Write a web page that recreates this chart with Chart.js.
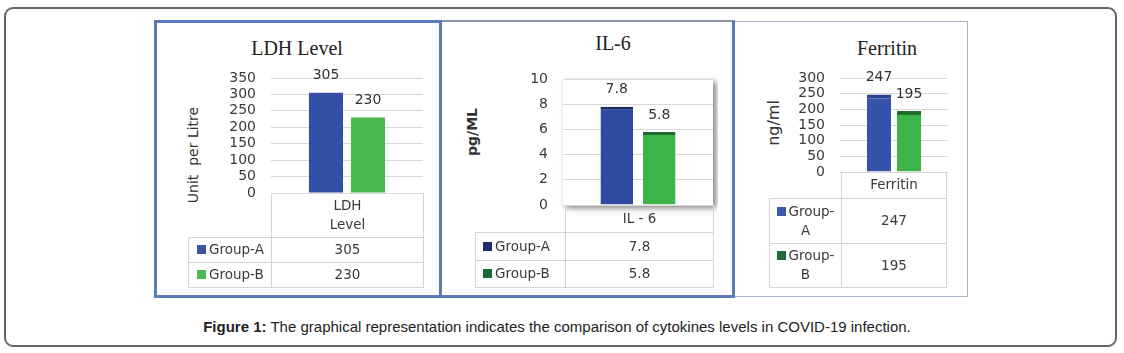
<!DOCTYPE html>
<html>
<head>
<meta charset="utf-8">
<script src="https://cdn.jsdelivr.net/npm/chart.js@4.4.1/dist/chart.umd.min.js"></script>
<style>
    html, body { margin: 0; padding: 0; background: #fff; }
    #page { position: relative; width: 1124px; height: 353px; overflow: hidden; font-family: "DejaVu Sans", sans-serif; color: #3a3a3a; }
    #frame { position: absolute; left: 4px; top: 7px; width: 1109px; height: 336px; border: 2px solid #666; border-radius: 9px; }
    .panel { position: absolute; box-sizing: border-box; background: #fff; }
    #panel1 { left: 154px; top: 20px; width: 288px; height: 278px; border: 3px solid #5a7cb6; }
    #panel2 { left: 442px; top: 20px; width: 293px; height: 278px; border-top: 2px solid #8a96a8; border-right: 3px solid #5a7cb6; border-bottom: 3px solid #5a7cb6; }
    #panel3 { left: 735px; top: 21px; width: 233px; height: 276px; border: 1px solid #a4b4cc; border-left: none; }
    .title { position: absolute; transform: translate(-50%, -50%); font-family: "Liberation Serif", serif; font-size: 20px; color: #222; white-space: nowrap; }
    .ytitle { position: absolute; transform: translate(-50%, -50%) rotate(-90deg); white-space: pre; font-size: 14px; color: #333; }
    canvas.chart { position: absolute; }
    table.data { position: absolute; border-collapse: collapse; table-layout: fixed; font-size: 13.5px; color: #3a3a3a; }
    table.data td { border: 1px solid #d4d4d4; padding: 0; text-align: center; vertical-align: middle; line-height: 19px; }
    table.data td.blank { border-top: none; border-left: none; }
    table.data td.head { border-top: none; }
    table.data td.name { text-align: left; }
    table.data .key { display: inline-block; width: 9px; height: 9px; margin-right: 3px; }
    #caption { position: absolute; left: 557px; top: 318px; transform: translateX(-50%); white-space: nowrap; font-family: "Liberation Sans", Arial, sans-serif; font-size: 15px; color: #222; }
</style>
</head>
<body>
<div id="page">
    <div id="frame"></div>
    <div class="panel" id="panel1"></div>
    <div class="panel" id="panel2"></div>
    <div class="panel" id="panel3"></div>

    <div class="title" style="left:297px; top:48px;">LDH Level</div>
    <div class="title" style="left:613px; top:43px;">IL-6</div>
    <div class="title" style="left:887px; top:48px;">Ferritin</div>

    <div class="ytitle" style="left:193px; top:155px;">Unit  per Litre</div>
    <div class="ytitle" style="left:472px; top:132px; font-weight:bold;">pg/ML</div>
    <div class="ytitle" style="left:773px; top:123px; font-size:16px;">ng/ml</div>

    <canvas class="chart" id="ldhChart" width="250" height="150" style="left:178px; top:62px;"></canvas>
    <canvas class="chart" id="il6Chart" width="240" height="160" style="left:478px; top:62px;"></canvas>
    <canvas class="chart" id="ferritinChart" width="173" height="127" style="left:780px; top:62px;"></canvas>

    <table class="data" id="ldhTable" style="left:188px; top:193px; width:236px;"></table>
    <table class="data" id="il6Table" style="left:475px; top:205px; width:239px;"></table>
    <table class="data" id="ferritinTable" style="left:769px; top:172px; width:178px;"></table>

    <div id="caption"><b>Figure 1:</b> The graphical representation indicates the comparison of cytokines levels in COVID-19 infection.</div>
</div>

<script>
// data
const groups = ["Group-A", "Group-B"];

const ldhCategories = ["LDH Level"];
const ldhGroupA = [305];
const ldhGroupB = [230];
const ldhTicks = [0, 50, 100, 150, 200, 250, 300, 350];

const il6Categories = ["IL - 6"];
const il6GroupA = [7.8];
const il6GroupB = [5.8];
const il6Ticks = [0, 2, 4, 6, 8, 10];

const ferritinCategories = ["Ferritin"];
const ferritinGroupA = [247];
const ferritinGroupB = [195];
const ferritinTicks = [0, 50, 100, 150, 200, 250, 300];

// value above each bar
const valueLabels = {
    id: "valueLabels",
    afterDatasetsDraw(chart) {
        const ctx = chart.ctx;
        ctx.save();
        ctx.font = "14px 'DejaVu Sans'";
        ctx.fillStyle = "#333";
        ctx.textAlign = "center";
        ctx.textBaseline = "middle";
        chart.data.datasets.forEach((ds, i) => {
            chart.getDatasetMeta(i).data.forEach((bar, j) => {
                ctx.fillText(String(ds.data[j]), bar.x, bar.y - 17);
            });
        });
        ctx.restore();
    }
};

// shadowed plot box (IL-6 only)
const plotShadow = {
    id: "plotShadow",
    beforeDraw(chart, args, opts) {
        if (!opts.on) return;
        const a = chart.chartArea;
        const ctx = chart.ctx;
        ctx.save();
        ctx.shadowColor = "rgba(0,0,0,0.5)";
        ctx.shadowBlur = 6;
        ctx.shadowOffsetX = 3;
        ctx.shadowOffsetY = 3;
        ctx.fillStyle = "#fff";
        ctx.fillRect(a.left, a.top, a.right - a.left, a.bottom - a.top);
        ctx.restore();
    }
};

function makeChart(id, o) {
    const ctx = document.getElementById(id).getContext("2d");
    const chart = new Chart(ctx, {
        type: "bar",
        data: {
            labels: o.categories,
            datasets: [{
                label: groups[0],
                data: o.a,
                backgroundColor: o.colorA,
                borderColor: o.topA,
                borderWidth: { top: o.topWidth, left: 0, right: 0, bottom: 0 },
                borderSkipped: false
            }, {
                label: groups[1],
                data: o.b,
                backgroundColor: o.colorB,
                borderColor: o.topB,
                borderWidth: { top: o.topWidth, left: 0, right: 0, bottom: 0 },
                borderSkipped: false
            }]
        },
        options: {
            responsive: false,
            animation: false,
            categoryPercentage: o.catPct,
            barPercentage: o.barPct,
            layout: { padding: { top: 12, bottom: 12, left: 0, right: 5 } },
            plugins: {
                legend: { display: false },
                tooltip: { enabled: false },
                plotShadow: { on: !!o.shadow }
            },
            scales: {
                x: { display: false },
                y: {
                    min: o.ticks[0],
                    max: o.ticks[o.ticks.length - 1],
                    afterFit(scale) { scale.width = o.area.left; },
                    afterBuildTicks(scale) { scale.ticks = o.ticks.map(v => ({ value: v })); },
                    border: { display: false },
                    // invisible tick marks push the labels 15px off the plot
                    grid: { color: "#d9d9d9", drawTicks: true, tickLength: 15, tickColor: "transparent" },
                    ticks: {
                        autoSkip: false,
                        padding: 0,
                        color: "#3a3a3a",
                        font: { family: "DejaVu Sans", size: 14 }
                    }
                }
            }
        },
        plugins: [plotShadow, valueLabels]
    });

    // nudge the layout padding until the axis ends land where they sit in the figure
    for (let k = 0; k < 4; k++) {
        const y = chart.scales.y;
        const top = y.getPixelForValue(y.max);
        const bottom = y.getPixelForValue(y.min);
        const right = chart.chartArea.right;
        const p = chart.config.options.layout.padding;
        chart.config.options.layout.padding = {
            top: p.top + (o.area.top - top),
            bottom: p.bottom + (bottom - o.area.bottom),
            left: 0,
            right: p.right + (right - o.area.right)
        };
        chart.update();
    }
    return chart;
}

// plot areas in canvas pixels
makeChart("ldhChart", {
    categories: ldhCategories, a: ldhGroupA, b: ldhGroupB, ticks: ldhTicks,
    colorA: "#3350a6", colorB: "#4bb94f", topA: "#3350a6", topB: "#4bb94f", topWidth: 0,
    catPct: 0.553, barPct: 0.81,
    area: { left: 93, top: 16, right: 245, bottom: 131 }
});

makeChart("il6Chart", {
    categories: il6Categories, a: il6GroupA, b: il6GroupB, ticks: il6Ticks,
    colorA: "#2f4ba2", colorB: "#3cb44a", topA: "#1b2b66", topB: "#1e6a2e", topWidth: 3,
    catPct: 0.567, barPct: 0.765, shadow: true,
    area: { left: 85, top: 17, right: 235, bottom: 143 }
});

makeChart("ferritinChart", {
    categories: ferritinCategories, a: ferritinGroupA, b: ferritinGroupB, ticks: ferritinTicks,
    colorA: "#3553ab", colorB: "#3cb44a", topA: "#2b438f", topB: "#1f6b32", topWidth: 4,
    catPct: 0.556, barPct: 0.8,
    area: { left: 60, top: 16, right: 168, bottom: 110 }
});

// data tables under each chart
function buildTable(id, t) {
    const table = document.getElementById(id);
    let html = `<colgroup><col style="width:${t.firstCol}px"><col></colgroup>`;
    const head = t.splitHeader ? t.categories[0].split(" ").join("<br>") : t.categories[0];
    html += `<tr style="height:${t.rows[0]}px"><td class="blank"></td><td class="head">${head}</td></tr>`;
    [t.a, t.b].forEach((vals, i) => {
        const name = t.wrapNames ? groups[i].replace("-", "-<br>") : groups[i];
        const cls = t.wrapNames ? "" : "name";
        const pad = t.wrapNames ? "" : `padding-left:${t.indent}px;`;
        html += `<tr style="height:${t.rows[i + 1]}px">` +
            `<td class="${cls}" style="${pad}"><span class="key" style="background:${t.keys[i]}"></span>${name}</td>` +
            `<td>${vals[0]}</td></tr>`;
    });
    table.innerHTML = html;
}

buildTable("ldhTable", {
    categories: ldhCategories, a: ldhGroupA, b: ldhGroupB,
    keys: ["#3a55a8", "#4cba52"], firstCol: 83, rows: [44, 25, 25],
    indent: 8, splitHeader: true
});
buildTable("il6Table", {
    categories: il6Categories, a: il6GroupA, b: il6GroupB,
    keys: ["#1f2c6e", "#1d6b34"], firstCol: 90, rows: [27, 28, 27],
    indent: 7
});
buildTable("ferritinTable", {
    categories: ferritinCategories, a: ferritinGroupA, b: ferritinGroupB,
    keys: ["#3d58b0", "#1f6b35"], firstCol: 72, rows: [26, 45, 44],
    wrapNames: true
});
</script>
</body>
</html>
